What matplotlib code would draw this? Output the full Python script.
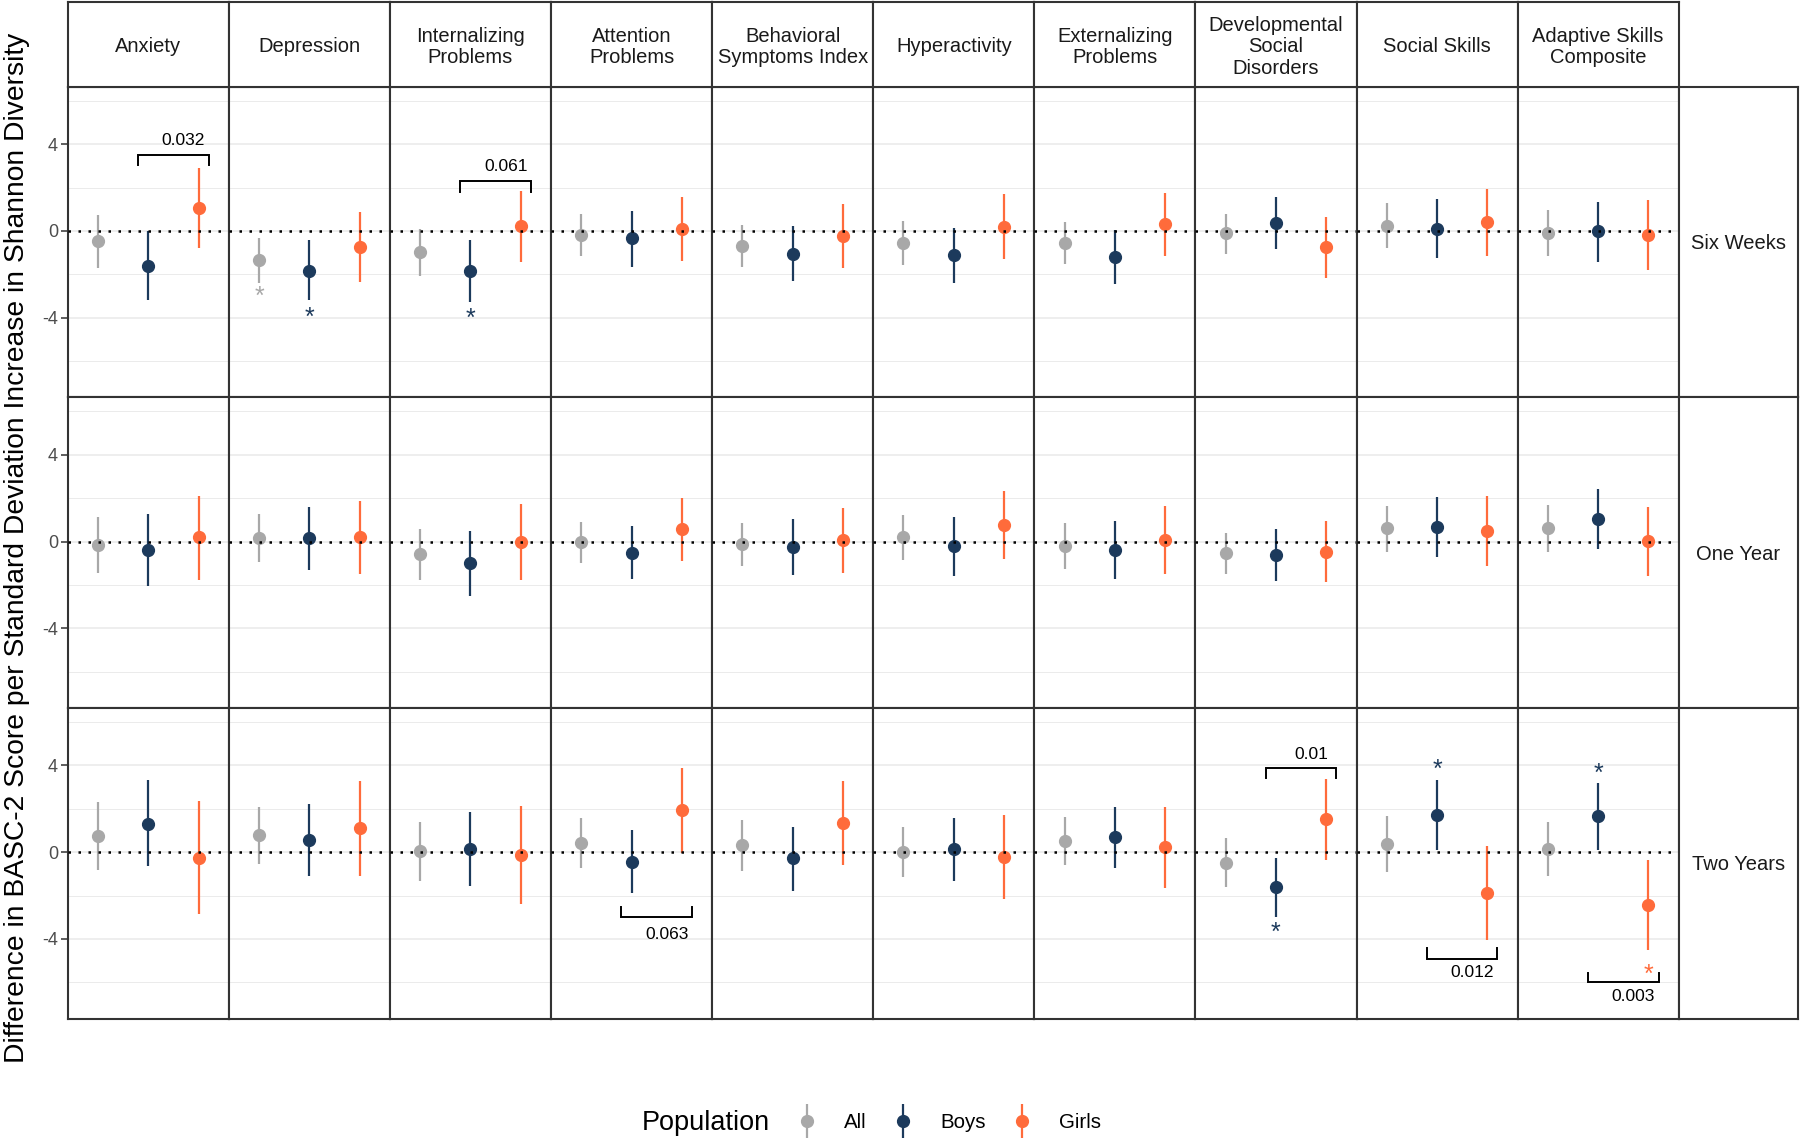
import matplotlib
matplotlib.use('Agg')
import matplotlib.pyplot as plt
import numpy as np
from matplotlib.container import ErrorbarContainer
from matplotlib.legend_handler import HandlerErrorbar

plt.rcParams['font.family'] = ['Liberation Sans', 'DejaVu Sans']

# ---------------- data ----------------
outcomes = ['Anxiety', 'Depression', 'Internalizing\nProblems', 'Attention\nProblems',
            'Behavioral\nSymptoms Index', 'Hyperactivity', 'Externalizing\nProblems',
            'Developmental\nSocial\nDisorders', 'Social Skills', 'Adaptive Skills\nComposite']
timepoints = ['Six Weeks', 'One Year', 'Two Years']
populations = ['All', 'Boys', 'Girls']

# rows = timepoints, columns = outcomes
all_est = [[-0.46, -1.35, -0.98, -0.17, -0.69, -0.55, -0.54, -0.08, 0.25, -0.08],
           [-0.14, 0.18, -0.58, -0.03, -0.12, 0.22, -0.20, -0.54, 0.61, 0.63],
           [0.75, 0.78, 0.06, 0.41, 0.31, 0.00, 0.52, -0.48, 0.38, 0.15]]
all_lo = [[-1.71, -2.40, -2.09, -1.14, -1.66, -1.55, -1.51, -1.05, -0.78, -1.15],
          [-1.43, -0.95, -1.77, -1.01, -1.15, -0.86, -1.26, -1.49, -0.48, -0.48],
          [-0.81, -0.54, -1.31, -0.75, -0.88, -1.15, -0.60, -1.60, -0.91, -1.12]]
all_hi = [[0.75, -0.31, 0.09, 0.80, 0.29, 0.45, 0.42, 0.80, 1.28, 0.95],
          [1.14, 1.29, 0.58, 0.91, 0.86, 1.23, 0.84, 0.38, 1.66, 1.67],
          [2.30, 2.07, 1.38, 1.58, 1.46, 1.15, 1.61, 0.63, 1.67, 1.40]]

boys_est = [[-1.62, -1.83, -1.86, -0.34, -1.05, -1.09, -1.20, 0.37, 0.11, -0.02],
            [-0.38, 0.15, -1.01, -0.51, -0.25, -0.20, -0.38, -0.63, 0.69, 1.04],
            [1.32, 0.57, 0.15, -0.45, -0.29, 0.15, 0.69, -1.63, 1.72, 1.66]]
boys_lo = [[-3.20, -3.20, -3.28, -1.66, -2.32, -2.40, -2.46, -0.83, -1.25, -1.43],
           [-2.04, -1.31, -2.50, -1.75, -1.55, -1.57, -1.74, -1.84, -0.69, -0.35],
           [-0.66, -1.09, -1.55, -1.90, -1.77, -1.32, -0.74, -2.98, 0.11, 0.11]]
boys_hi = [[0.00, -0.43, -0.43, 0.92, 0.22, 0.15, 0.03, 1.57, 1.48, 1.35],
           [1.26, 1.60, 0.49, 0.72, 1.04, 1.12, 0.95, 0.58, 2.06, 2.41],
           [3.32, 2.21, 1.84, 1.00, 1.14, 1.57, 2.07, -0.28, 3.32, 3.20]]

girls_est = [[1.06, -0.74, 0.22, 0.11, -0.22, 0.18, 0.34, -0.75, 0.42, -0.18],
             [0.20, 0.22, 0.00, 0.60, 0.05, 0.75, 0.08, -0.46, 0.49, 0.03],
             [-0.26, 1.12, -0.12, 1.92, 1.34, -0.22, 0.22, 1.51, -1.89, -2.44]]
girls_lo = [[-0.78, -2.35, -1.45, -1.38, -1.71, -1.31, -1.14, -2.15, -1.17, -1.78],
            [-1.77, -1.50, -1.77, -0.88, -1.47, -0.81, -1.50, -1.87, -1.11, -1.58],
            [-2.86, -1.08, -2.38, -0.03, -0.61, -2.14, -1.64, -0.35, -4.04, -4.53]]
girls_hi = [[2.89, 0.88, 1.85, 1.57, 1.26, 1.68, 1.77, 0.63, 1.95, 1.42],
            [2.10, 1.89, 1.74, 2.03, 1.55, 2.33, 1.64, 0.94, 2.10, 1.61],
            [2.35, 3.30, 2.12, 3.87, 3.30, 1.70, 2.06, 3.35, 0.29, -0.35]]

# significance brackets: (timepoint, outcome, bar y, tick end y, label, label y)
bracket_time = [0, 0, 2, 2, 2, 2]
bracket_outcome = [0, 2, 3, 7, 8, 9]
bracket_bar = [3.49, 2.29, -3.01, 3.90, -4.92, -6.00]
bracket_tick = [3.03, 1.80, -2.53, 3.41, -4.42, -5.55]
bracket_label = ['0.032', '0.061', '0.063', '0.01', '0.012', '0.003']
bracket_label_y = [4.25, 3.03, -3.73, 4.56, -5.45, -6.57]

# asterisks: (timepoint, outcome, population index, y)
star_time = [0, 0, 0, 2, 2, 2, 2]
star_outcome = [1, 1, 2, 7, 8, 9, 9]
star_pop = [0, 1, 1, 1, 1, 1, 2]
star_y = [-2.82, -3.78, -3.85, -3.52, 3.99, 3.84, -5.45]

ylabel = 'Difference in BASC-2 Score per Standard Deviation Increase in Shannon Diversity'

# ---------------- style ----------------
colors = ['#A8A8A8', '#1C3A5C', '#FF6B3B']
border = '#333333'
gridc = '#EBEBEB'

est = [all_est, boys_est, girls_est]
lo = [all_lo, boys_lo, girls_lo]
hi = [all_hi, boys_hi, girls_hi]

W, H = 1800, 1144
fig = plt.figure(figsize=(W / 100, H / 100), dpi=100)

left_px, col_w, top_px, row_h, strip_top = 67.7, 161.1, 86.7, 310.6, 2.0
rstrip_w = 1797.8 - (left_px + 10 * col_w)


def fx(px):
    return px / W


def fy(py):
    return 1 - py / H


handles = None
for r in range(3):
    for c in range(10):
        ax = fig.add_axes([fx(left_px + c * col_w), fy(top_px + (r + 1) * row_h),
                           col_w / W, row_h / H])
        ax.set_xlim(0.4, 3.6)
        ax.set_ylim(-7.67, 6.65)
        ax.set_yticks([-4, 0, 4])
        ax.set_yticklabels(['-4', '0', '4'])
        ax.set_yticks([-6, -2, 2, 6], minor=True)
        ax.grid(True, which='major', axis='y', color=gridc, lw=1.2, zorder=0)
        ax.grid(True, which='minor', axis='y', color=gridc, lw=0.7, zorder=0)
        ax.set_axisbelow(True)
        ax.set_xticks([])
        ax.tick_params(axis='y', which='minor', length=0)
        if c == 0:
            ax.tick_params(axis='y', which='major', length=5, width=1.1, color=border,
                           labelsize=13, labelcolor='#4D4D4D', pad=2)
        else:
            ax.tick_params(axis='y', which='major', left=False, labelleft=False)
        for s in ax.spines.values():
            s.set_color(border)
            s.set_linewidth(1.5)
        conts = []
        for p in range(3):
            y = est[p][r][c]
            yerr = [[y - lo[p][r][c]], [hi[p][r][c] - y]]
            cont = ax.errorbar([p + 1], [y], yerr=yerr, fmt='o', color=colors[p],
                               ms=8.5, elinewidth=1.6, capsize=0, zorder=2)
            conts.append(cont)
        if handles is None:
            handles = conts
        ax.axhline(0, color='black', lw=1.8, linestyle=(0, (1, 3)), zorder=3,
                   dash_capstyle='butt')

        for i in range(len(bracket_label)):
            if bracket_time[i] == r and bracket_outcome[i] == c:
                ax.plot([1.8, 1.8, 3.2, 3.2],
                        [bracket_tick[i], bracket_bar[i], bracket_bar[i], bracket_tick[i]],
                        color='black', lw=1.4, solid_joinstyle='miter', zorder=4)
                ax.annotate(bracket_label[i], xy=(2.7, bracket_label_y[i]),
                            xytext=(0, -0.358 * 12.5), textcoords='offset points',
                            ha='center', va='baseline', fontsize=12.5, color='black')
        for i in range(len(star_y)):
            if star_time[i] == r and star_outcome[i] == c:
                p = star_pop[i]
                ax.annotate('*', xy=(p + 1, star_y[i]), xytext=(0, -0.47 * 18),
                            textcoords='offset points', ha='center', va='baseline',
                            fontsize=18, color=colors[p])

# column strips
for c in range(10):
    sax = fig.add_axes([fx(left_px + c * col_w), fy(top_px), col_w / W, (top_px - strip_top) / H])
    sax.set_xticks([])
    sax.set_yticks([])
    sax.set_facecolor('white')
    for s in sax.spines.values():
        s.set_color(border)
        s.set_linewidth(1.5)
    sax.text(0.5, 0.47, outcomes[c], ha='center', va='center', fontsize=14.5,
             linespacing=1.18, transform=sax.transAxes, color='#1A1A1A')

# row strips
for r in range(3):
    sax = fig.add_axes([fx(left_px + 10 * col_w), fy(top_px + (r + 1) * row_h),
                        rstrip_w / W, row_h / H])
    sax.set_xticks([])
    sax.set_yticks([])
    for s in sax.spines.values():
        s.set_color(border)
        s.set_linewidth(1.5)
    sax.text(0.5, 0.495, timepoints[r], ha='center', va='center', fontsize=14.5,
             transform=sax.transAxes, color='#1A1A1A')

# y label
fig.text(fx(17.2), 0.521, ylabel, rotation=90, ha='center', va='center', fontsize=20.3)

# legend
leg_y = 1 - 1122.5 / H
fig.text(fx(770), leg_y, 'Population', ha='right', va='center', fontsize=19.5)
fig.legend(handles, populations, loc='center left', bbox_to_anchor=(fx(796.6), leg_y),
           ncol=3, frameon=False, fontsize=14.8, handlelength=1.0, handletextpad=1.3,
           columnspacing=1.28, borderpad=0, borderaxespad=0,
           handler_map={ErrorbarContainer: HandlerErrorbar(yerr_size=0.84)})

fig.savefig('out.png', dpi=100, facecolor='white')
